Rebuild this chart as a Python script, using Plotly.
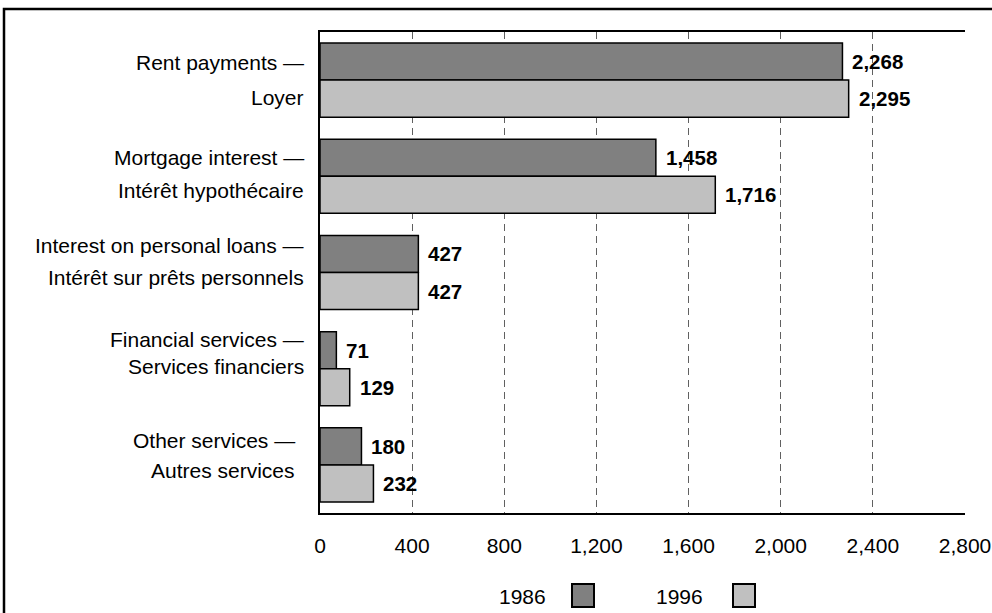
import plotly.graph_objects as go

# Data
categories_en = ["Rent payments", "Mortgage interest", "Interest on personal loans",
                 "Financial services", "Other services"]
categories_fr = ["Loyer", "Intérêt hypothécaire", "Intérêt sur prêts personnels",
                 "Services financiers", "Autres services"]
years = ["1986", "1996"]
values_1986 = [2268, 1458, 427, 71, 180]
values_1996 = [2295, 1716, 427, 129, 232]
x_ticks = [0, 400, 800, 1200, 1600, 2000, 2400, 2800]

# Styling
W, H = 992, 613
M_L, M_R, M_T, M_B = 320, 27, 32, 100
PLOT_W = W - M_L - M_R
PLOT_H = H - M_T - M_B
FONT = "Liberation Sans, Arial, sans-serif"
colors = ["#808080", "#c0c0c0"]
bar_gap = 0.23
# pixel offset of each bar's centre from its category centre
bar_half = PLOT_H / len(categories_en) * (1 - bar_gap) / 4

# per-category nudges (px) for the two-line category labels
label_dy1 = [-18, -19, -27, -29, -24]
label_dy2 = [17, 14, 5, -2, 6]
label_dx = [-14, -14, -14, -14, -23]


def px_x(p):
    return (p - M_L) / PLOT_W


def px_y(p):
    return (H - M_B - p) / PLOT_H


fig = go.Figure()
for name, vals, col in zip(years, [values_1986, values_1996], colors):
    fig.add_trace(go.Bar(
        y=categories_en, x=vals, name=name, orientation="h",
        marker=dict(color=col, line=dict(color="black", width=1.5)),
        showlegend=False,
    ))

annotations = []
# value labels beside each bar
for k, vals in enumerate([values_1986, values_1996]):
    shift = bar_half if k == 0 else -bar_half
    for cat, v in zip(categories_en, vals):
        annotations.append(dict(
            x=v, y=cat, xref="x", yref="y", text=f"<b>{v:,}</b>",
            showarrow=False, xanchor="left", yanchor="middle",
            xshift=8, yshift=shift,
            font=dict(family=FONT, size=20.5, color="black"),
        ))

# bilingual category labels
for i, (en, fr) in enumerate(zip(categories_en, categories_fr)):
    for txt, dy in ((en + " \u2014", label_dy1[i]), (fr, label_dy2[i])):
        annotations.append(dict(
            x=0, y=en, xref="paper", yref="y", text=txt,
            showarrow=False, xanchor="right", yanchor="middle",
            xshift=label_dx[i], yshift=-dy,
            font=dict(family=FONT, size=21, color="black"),
        ))

shapes = []
# legend: label followed by a swatch
legend_items = [(548, 572), (705, 733)]
for (text_right, box_left), name, col in zip(legend_items, years, colors):
    annotations.append(dict(
        x=px_x(text_right), y=px_y(596), xref="paper", yref="paper",
        text=name, showarrow=False, xanchor="right", yanchor="middle",
        font=dict(family=FONT, size=21, color="black"),
    ))
    shapes.append(dict(
        type="rect", xref="paper", yref="paper",
        x0=px_x(box_left), x1=px_x(box_left + 22),
        y0=px_y(607), y1=px_y(584),
        fillcolor=col, line=dict(color="black", width=2),
    ))

# outer frame
shapes.append(dict(
    type="rect", xref="paper", yref="paper",
    x0=px_x(4), x1=px_x(W + 20), y0=px_y(H + 20), y1=px_y(9),
    line=dict(color="black", width=2.5), fillcolor="rgba(0,0,0,0)", layer="below",
))

fig.update_layout(
    width=W, height=H,
    margin=dict(l=M_L, r=M_R, t=M_T, b=M_B, pad=0, autoexpand=False),
    paper_bgcolor="white", plot_bgcolor="white",
    barmode="group", bargap=bar_gap, bargroupgap=0,
    font=dict(family=FONT, size=21, color="black"),
    annotations=annotations, shapes=shapes,
    xaxis=dict(
        range=[0, 2800], tickvals=x_ticks,
        ticktext=[f"{t:,}" for t in x_ticks],
        showgrid=True, gridcolor="#606060", gridwidth=1, griddash="7px,5px",
        showline=True, linecolor="black", linewidth=2, mirror=True,
        ticks="outside", ticklen=0, ticklabelstandoff=13,
        zeroline=False, automargin=False,
        tickfont=dict(family=FONT, size=21, color="black"),
    ),
    yaxis=dict(
        autorange="reversed", showticklabels=False, ticks="",
        showline=True, linecolor="black", linewidth=2,
        showgrid=False, zeroline=False, automargin=False,
    ),
)

fig.write_html("out.html")
